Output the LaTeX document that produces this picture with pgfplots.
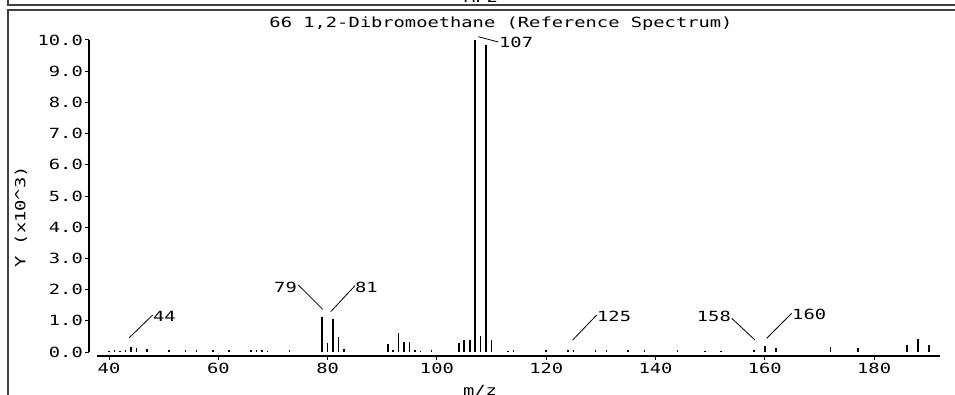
\documentclass[border=0pt]{standalone}
\usepackage{pgfplots}
\pgfplotsset{compat=1.18}
\usepackage{fontspec}
\setmainfont{DejaVu Sans Mono}[FakeStretch=1.34]
\begin{document}
\fontsize{14bp}{16bp}\selectfont
\begin{tikzpicture}[x=1bp,y=1bp]
\useasboundingbox (0,0) rectangle (955,394);
\clip (0,0) rectangle (955,394);
\begin{axis}[
  at={(97bp,38bp)}, anchor=south west,
  scale only axis, width=843bp, height=316bp,
  xmin=37.8, xmax=192.06, ymin=-0.128, ymax=10,
  axis x line*=bottom, axis y line*=left,
  axis y line shift=8bp,
  y axis line style={shorten <=4bp},
  axis line style={line width=1.2bp, black},
  tick align=outside, major tick length=4bp,
  tick style={line width=1bp, black},
  xtick={40,60,...,180}, ytick={0,1,...,10},
  /pgf/number format/assume math mode=true,
  yticklabel style={/pgf/number format/fixed, /pgf/number format/fixed zerofill, /pgf/number format/precision=1, inner sep=2bp},
  xticklabel style={inner sep=3bp},
  clip=false,
]
\addplot[ycomb, line width=1.6bp, black] table {
40 0.04
41 0.08
42 0.04
43 0.06
44 0.15
45 0.12
47 0.10
51 0.06
54 0.05
56 0.05
59 0.07
62 0.05
66 0.08
67 0.08
68 0.06
69 0.04
73 0.05
79 1.11
80 0.30
81 1.05
82 0.49
83 0.10
91 0.25
92 0.08
93 0.62
94 0.33
95 0.33
96 0.08
97 0.04
99 0.08
104 0.30
105 0.37
106 0.39
107 10.0
108 0.50
109 9.84
110 0.38
113 0.04
114 0.06
120 0.05
124 0.06
125 0.06
129 0.05
131 0.05
135 0.05
138 0.05
144 0.05
149 0.04
152 0.04
158 0.08
160 0.18
162 0.12
172 0.16
177 0.12
186 0.24
188 0.42
190 0.24
};
\end{axis}
\begin{scope}[shift={(0,394)}, y=-1bp, every node/.style={inner sep=0pt}]
  % frame
  \draw[line width=1.8bp, black!75] (8,-10) -- (8,5) -- (970,5);
  \draw[line width=1.8bp, black!75] (970,10) -- (8,10) -- (8,400);
  \node[anchor=base] at (481,2.5) {MP2};
  % title and labels
  \node at (501,24) {66 1,2-Dibromoethane (Reference Spectrum)};
  \node[rotate=90] at (21,217) {Y (x10\textasciicircum 3)};
  \node at (480,391) {m/z};
  % peak annotations
  \draw[line width=0.8bp] (129.3,337.7) -- (152.7,315);
  \node[anchor=west] at (153,316) {44};
  \draw[line width=0.8bp] (298.3,285) -- (322.7,309.3);
  \node[anchor=east] at (297,287) {79};
  \draw[line width=0.8bp] (330.7,311.7) -- (355,285.7);
  \node[anchor=west] at (355,287) {81};
  \draw[line width=0.8bp] (478.3,36.7) -- (498.3,42);
  \node[anchor=west] at (499,42) {107};
  \draw[line width=0.8bp] (572.7,340) -- (596.7,315);
  \node[anchor=west] at (597,316) {125};
  \draw[line width=0.8bp] (731.7,318.3) -- (755,340);
  \node[anchor=east] at (731,316) {158};
  \draw[line width=0.8bp] (766.7,338.3) -- (791.7,313.3);
  \node[anchor=west] at (792,314) {160};
\end{scope}
\end{tikzpicture}
\end{document}
